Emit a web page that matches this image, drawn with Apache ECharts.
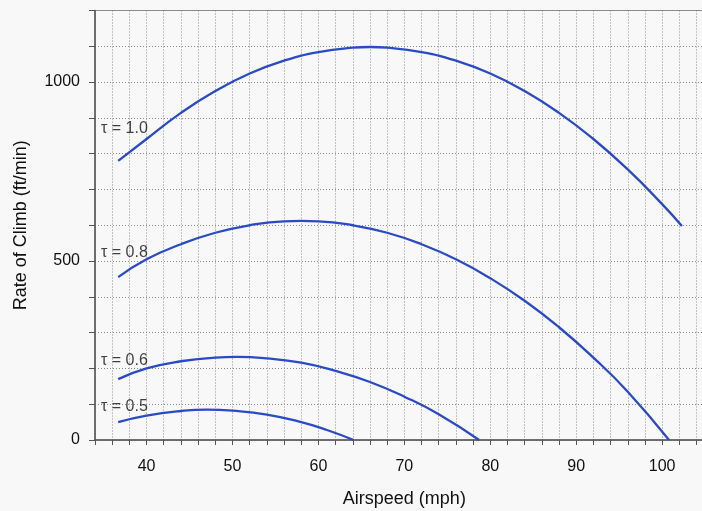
<!DOCTYPE html>
<html>
<head>
<meta charset="utf-8">
<script src="https://cdn.jsdelivr.net/npm/echarts@6/dist/echarts.min.js"></script>
<style>
  html, body { margin: 0; padding: 0; background: #f8f8f8; }
  #chart { width: 702px; height: 511px; }
</style>
</head>
<body>
<div id="chart"></div>
<script>
// Rate of climb versus airspeed for four throttle settings (tau)
const throttleNames = ['τ = 1.0', 'τ = 0.8', 'τ = 0.6', 'τ = 0.5'];

const speedTau10 = [36.7, 40, 44, 48, 52, 56, 60, 64, 66, 68, 72, 76, 80, 84, 88, 92, 96, 100, 102.3];
const climbTau10 = [780, 841, 914, 975, 1024, 1060, 1084, 1096, 1098, 1096, 1084, 1060, 1024, 975, 914, 841, 756, 659, 598];

const speedTau08 = [36.7, 40, 44, 48, 52, 56, 58, 60, 64, 68, 72, 76, 80, 84, 88, 92, 96, 100.8];
const climbTau08 = [455, 505, 547, 579, 600, 611, 612, 611, 600, 579, 547, 505, 452, 389, 315, 230, 135, 0];

const speedTau06 = [36.7, 40, 44, 48, 50.5, 54, 58, 62, 66, 70, 74, 78.7];
const climbTau06 = [170, 200, 220, 230, 232, 228, 216, 193, 162, 121, 72, 0];

const speedTau05 = [36.7, 40, 44, 47, 50, 54, 58, 61, 64.1];
const climbTau05 = [50, 68, 81, 85, 82, 71, 50, 28, 0];

// where each curve's name is written (axis units)
const nameAnchorX = [34.7, 34.7, 34.7, 34.7];
const nameAnchorY = [871, 523, 221, 93];

const speedLists = [speedTau10, speedTau08, speedTau06, speedTau05];
const climbLists = [climbTau10, climbTau08, climbTau06, climbTau05];

const curveColor = '#2a4ac6';
const inkColor = '#111111';
const gridDots = { color: '#8c8c8c', type: [1, 2], width: 1 };

const curveSeries = speedLists.map((xs, i) => ({
  type: 'line',
  name: throttleNames[i],
  data: xs.map((x, j) => [x, climbLists[i][j]]),
  showSymbol: false,
  smooth: 0.5,
  lineStyle: { color: curveColor, width: 2.3 },
  z: 5
}));

const nameSeries = {
  type: 'scatter',
  data: throttleNames.map((n, i) => ({ name: n, value: [nameAnchorX[i], nameAnchorY[i]] })),
  symbolSize: 0,
  silent: true,
  label: {
    show: true,
    position: 'right',
    distance: 0,
    formatter: p => p.name,
    color: inkColor,
    fontFamily: 'Liberation Sans, Arial, sans-serif',
    fontSize: 16
  },
  z: 6
};

const chart = echarts.init(document.getElementById('chart'), null, { renderer: 'canvas' });
chart.setOption({
  backgroundColor: '#f8f8f8',
  animation: false,
  textStyle: { fontFamily: 'Liberation Sans, Arial, sans-serif' },
  grid: {
    left: 95, top: 10.5, width: 618.7, height: 429.5,
    outerBoundsMode: 'none',
    containLabel: false,
    show: true, borderColor: '#8a8a8a', borderWidth: 1, backgroundColor: 'transparent'
  },
  xAxis: {
    type: 'value',
    min: 34, max: 106, interval: 2,
    name: 'Airspeed (mph)',
    nameLocation: 'middle',
    nameGap: 50,
    nameTextStyle: { color: inkColor, fontSize: 18 },
    axisLine: { show: true, lineStyle: { color: '#555', width: 1.5 } },
    axisTick: { show: true, length: 5, lineStyle: { color: '#555' } },
    axisLabel: {
      interval: 0, margin: 19, color: inkColor, fontSize: 16,
      formatter: v => (v % 10 === 0 ? String(v) : '')
    },
    splitLine: { show: true, lineStyle: gridDots }
  },
  yAxis: {
    type: 'value',
    min: 0, max: 1200, interval: 100,
    name: 'Rate of Climb (ft/min)',
    nameLocation: 'middle',
    nameGap: 65,
    nameTextStyle: { color: inkColor, fontSize: 18 },
    axisLine: { show: true, lineStyle: { color: '#555', width: 1.5 } },
    axisTick: { show: true, length: 6, lineStyle: { color: '#555' } },
    axisLabel: {
      interval: 0, margin: 15, color: inkColor, fontSize: 16,
      formatter: v => (v % 500 === 0 ? String(v) : '')
    },
    splitLine: { show: true, lineStyle: gridDots }
  },
  series: [...curveSeries, nameSeries]
});
</script>
</body>
</html>
